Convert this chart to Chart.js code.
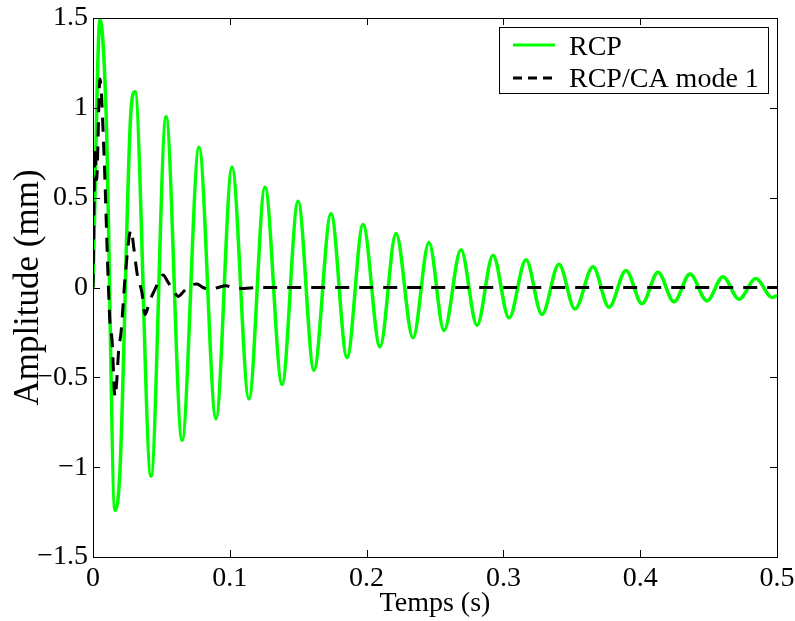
<!DOCTYPE html>
<html><head><meta charset="utf-8">
<script src="https://cdn.jsdelivr.net/npm/chart.js@4"></script>
<style>html,body{margin:0;padding:0;background:#fff}canvas{display:block}</style>
</head><body>
<canvas id="c" width="795" height="621"></canvas>
<script>
// RCP (green) : extrema
const rcpTime = [0, 0.0051, 0.0095, 0.0161, 0.0197, 0.0278, 0.0307, 0.0424, 0.0534, 0.0651,
  0.0775, 0.0899, 0.1016, 0.1140, 0.1257, 0.1382, 0.1499, 0.1615, 0.1740, 0.1857,
  0.1974, 0.2098, 0.2215, 0.2339, 0.2456, 0.2566, 0.2690, 0.2807, 0.2924, 0.3041,
  0.3165, 0.3282, 0.3406, 0.3523, 0.3655, 0.3772, 0.3896, 0.4013, 0.4130, 0.4247,
  0.4364, 0.4488, 0.4605, 0.4722, 0.4846, 0.4963, 0.5];
const rcpAmp = [0, 1.49, 0.99, -1.24, -1.02, 0.99, 1.09, -1.05, 0.95, -0.85,
  0.78, -0.73, 0.67, -0.62, 0.56, -0.54, 0.48, -0.46, 0.41, -0.39,
  0.35, -0.33, 0.30, -0.28, 0.25, -0.24, 0.21, -0.21, 0.18, -0.17,
  0.155, -0.15, 0.13, -0.12, 0.115, -0.11, 0.095, -0.09, 0.085, -0.08,
  0.075, -0.075, 0.06, -0.065, 0.05, -0.055, -0.045];

// RCP/CA mode 1 (black dashed)
const caTime = [0, 0.0015, 0.0026, 0.0051, 0.0080, 0.0110, 0.0124, 0.0139, 0.0161, 0.0190,
  0.0205, 0.0234, 0.0278, 0.0300, 0.0322, 0.0358, 0.0380, 0.0417, 0.0453, 0.0490,
  0.0512, 0.0548, 0.0599, 0.0621, 0.0665, 0.0709, 0.0760, 0.0804, 0.0855, 0.0914,
  0.0972, 0.1016, 0.1100, 0.1200, 0.5];
const caAmp = [0, 0.78, 0.6, 1.16, 0.75, 0.06, -0.2, -0.29, -0.61, -0.33,
  -0.25, 0.05, 0.32, 0.21, 0.08, -0.03, -0.15, -0.07, -0.01, 0.05,
  0.07, 0.03, -0.03, -0.05, -0.02, 0.01, 0.02, 0.0, -0.01, 0.0,
  0.01, 0.0, -0.005, 0.0, 0.0];

const xTicks = [0, 0.1, 0.2, 0.3, 0.4, 0.5];
const yTicks = [-1.5, -1, -0.5, 0, 0.5, 1, 1.5];
const seriesLabels = ['RCP', 'RCP/CA mode 1'];
const xTitle = 'Temps (s)';
const yTitle = 'Amplitude (mm)';

const FONT = "'Liberation Serif', 'Times New Roman', serif";
const fmt = v => (v < 0 ? '\u2212' : '') + String(Math.abs(v));

const framePlugin = {
  id: 'frame',
  afterDraw(chart) {
    const {ctx, chartArea: a, scales: {x, y}} = chart;
    ctx.save();
    ctx.strokeStyle = '#000';
    ctx.lineWidth = 1;
    ctx.setLineDash([]);
    ctx.strokeRect(a.left + 0.5, a.top + 0.5, a.right - a.left, a.bottom - a.top);
    const L = 7;
    ctx.beginPath();
    xTicks.forEach(v => {
      const px = Math.round(x.getPixelForValue(v)) + 0.5;
      ctx.moveTo(px, a.bottom); ctx.lineTo(px, a.bottom - L);
      ctx.moveTo(px, a.top); ctx.lineTo(px, a.top + L);
    });
    yTicks.forEach(v => {
      const py = Math.round(y.getPixelForValue(v)) + 0.5;
      ctx.moveTo(a.left, py); ctx.lineTo(a.left + L, py);
      ctx.moveTo(a.right, py); ctx.lineTo(a.right - L, py);
    });
    ctx.stroke();

    // legend box
    const bx = 499, by = 27, bw = 269, bh = 66;
    ctx.fillStyle = '#fff';
    ctx.fillRect(bx, by, bw, bh);
    ctx.strokeRect(bx + 0.5, by + 0.5, bw, bh);
    const ds = chart.data.datasets;
    const rows = [ds[1], ds[0]];
    const lineY = [45, 78];
    const textY = [55, 87];
    rows.forEach((d, i) => {
      ctx.beginPath();
      ctx.strokeStyle = d.borderColor;
      ctx.lineWidth = 3;
      ctx.setLineDash(d.legendDash || []);
      ctx.moveTo(513, lineY[i]); ctx.lineTo(555, lineY[i]);
      ctx.stroke();
      ctx.setLineDash([]);
      ctx.fillStyle = '#000';
      ctx.font = "28px " + FONT;
      ctx.textBaseline = 'alphabetic';
      ctx.textAlign = 'left';
      ctx.fillText(d.label, 569, textY[i]);
    });
    ctx.restore();
  }
};

new Chart(document.getElementById('c'), {
  type: 'line',
  data: {
    datasets: [
      {
        label: seriesLabels[1],
        data: caTime.map((t, i) => ({x: t, y: caAmp[i]})),
        borderColor: '#000000',
        borderWidth: 3,
        borderDash: [14, 10],
        legendDash: [9, 6],
        pointRadius: 0,
        cubicInterpolationMode: 'monotone',
        fill: false,
        order: 0
      },
      {
        label: seriesLabels[0],
        data: rcpTime.map((t, i) => ({x: t, y: rcpAmp[i]})),
        borderColor: '#00ff00',
        borderWidth: 3.5,
        pointRadius: 0,
        cubicInterpolationMode: 'monotone',
        fill: false,
        order: 1
      }
    ]
  },
  options: {
    responsive: false,
    animation: false,
    devicePixelRatio: 1,
    layout: {padding: {top: 18, right: 18, left: 0, bottom: 0}},
    plugins: {legend: {display: false}, tooltip: {enabled: false}},
    scales: {
      x: {
        type: 'linear', min: 0, max: 0.5,
        afterBuildTicks: s => { s.ticks = xTicks.map(v => ({value: v})); },
        afterFit: s => { s.height = 64; s.paddingLeft = 0; s.paddingRight = 0; },
        ticks: {font: {family: FONT, size: 28}, color: '#000', padding: 5, maxRotation: 0, autoSkip: false, callback: v => fmt(v)},
        grid: {display: false, drawTicks: false},
        border: {display: false},
        title: {display: true, text: xTitle, color: '#000', font: {family: FONT, size: 28}, padding: {top: 0, bottom: 1}}
      },
      y: {
        type: 'linear', min: -1.5, max: 1.5,
        afterBuildTicks: s => { s.ticks = yTicks.map(v => ({value: v})); },
        afterFit: s => { s.width = 93; s.paddingTop = 0; s.paddingBottom = 0; },
        ticks: {font: {family: FONT, size: 28}, color: '#000', padding: 5, autoSkip: false, callback: v => fmt(v)},
        grid: {display: false, drawTicks: false},
        border: {display: false},
        title: {display: true, text: yTitle, color: '#000', font: {family: FONT, size: 35}, padding: {top: 8, bottom: 0}}
      }
    }
  },
  plugins: [framePlugin]
});
</script>
</body></html>
